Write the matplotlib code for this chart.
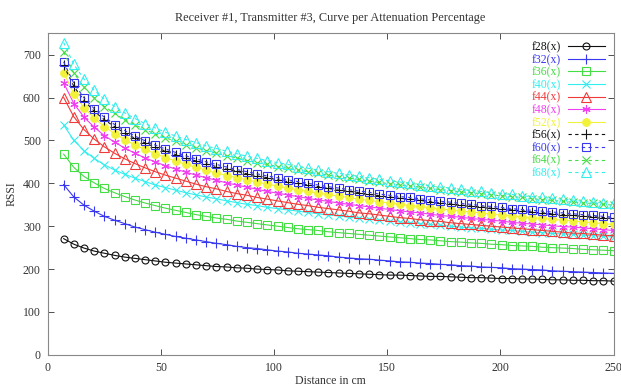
import matplotlib
matplotlib.use("Agg")
import matplotlib.pyplot as plt

plt.rcParams["font.family"] = ["Liberation Serif", "DejaVu Serif"]

# distance samples (cm)
distance = [7, 11.5, 16, 20.5, 25, 29.5, 34, 38.5, 43, 47.5, 52, 56.5, 61, 65.5,
            70, 74.5, 79, 83.5, 88, 92.5, 97, 101.5, 106, 110.5, 115, 119.5, 124,
            128.5, 133, 137.5, 142, 146.5, 151, 155.5, 160, 164.5, 169, 173.5, 178,
            182.5, 187, 191.5, 196, 200.5, 205, 209.5, 214, 218.5, 223, 227.5, 232,
            236.5, 241, 245.5, 250]

# RSSI, one list per attenuation percentage
f28 = [271, 258, 249, 242, 237, 232, 228, 225, 222, 219, 216, 214, 212, 210, 208,
       206, 205, 203, 202, 200, 199, 198, 196, 195, 194, 193, 192, 191, 190, 189,
       188, 187, 186, 186, 185, 184, 183, 183, 182, 181, 180, 180, 179, 178, 178,
       177, 177, 176, 175, 175, 174, 174, 173, 173, 172]
f32 = [397, 368, 349, 335, 323, 314, 306, 298, 292, 286, 281, 276, 272, 268, 264,
       260, 257, 253, 250, 248, 245, 242, 240, 237, 235, 233, 231, 228, 226, 224,
       223, 221, 219, 217, 216, 214, 213, 211, 210, 208, 207, 205, 204, 203, 201,
       200, 199, 198, 196, 195, 194, 193, 192, 191, 190]
f36 = [468, 437, 416, 401, 388, 378, 369, 361, 354, 348, 342, 337, 332, 327, 323,
       319, 316, 312, 309, 306, 303, 300, 297, 294, 292, 290, 287, 285, 283, 281,
       279, 277, 275, 273, 271, 269, 268, 266, 264, 263, 261, 260, 258, 257, 255,
       254, 253, 251, 250, 249, 248, 246, 245, 244, 243]
f40 = [536, 500, 476, 458, 443, 431, 421, 412, 404, 396, 390, 384, 378, 373, 368,
       364, 359, 355, 351, 348, 344, 341, 338, 335, 332, 329, 326, 324, 321, 319,
       316, 314, 312, 310, 308, 306, 304, 302, 300, 298, 296, 295, 293, 291, 290,
       288, 286, 285, 283, 282, 281, 279, 278, 276, 275]
f44 = [600, 555, 525, 503, 485, 470, 457, 446, 436, 427, 419, 412, 405, 398, 392,
       387, 381, 376, 372, 367, 363, 359, 355, 351, 348, 344, 341, 338, 335, 331,
       329, 326, 323, 320, 318, 315, 313, 311, 308, 306, 304, 302, 300, 298, 296,
       294, 292, 290, 288, 286, 284, 283, 281, 279, 278]
f48 = [634, 586, 554, 531, 511, 496, 482, 470, 459, 450, 441, 433, 426, 419, 413,
       407, 401, 396, 391, 386, 381, 377, 373, 369, 365, 361, 358, 354, 351, 348,
       345, 342, 339, 336, 333, 331, 328, 325, 323, 321, 318, 316, 314, 312, 309,
       307, 305, 303, 301, 299, 298, 296, 294, 292, 290]
f52 = [658, 609, 576, 552, 532, 516, 502, 489, 479, 469, 460, 452, 444, 437, 430,
       424, 418, 413, 408, 403, 398, 394, 389, 385, 381, 377, 374, 370, 367, 363,
       360, 357, 354, 351, 348, 346, 343, 340, 338, 335, 333, 331, 328, 326, 324,
       322, 320, 318, 316, 314, 312, 310, 308, 306, 304]
f56 = [675, 626, 593, 568, 548, 532, 517, 505, 494, 484, 475, 467, 459, 452, 445,
       439, 433, 428, 422, 417, 413, 408, 404, 400, 396, 392, 388, 384, 381, 378,
       374, 371, 368, 365, 363, 360, 357, 354, 352, 349, 347, 345, 342, 340, 338,
       336, 333, 331, 329, 327, 325, 323, 322, 320, 318]
f60 = [683, 633, 599, 574, 554, 537, 523, 510, 499, 489, 480, 472, 464, 457, 450,
       444, 438, 432, 427, 422, 417, 413, 408, 404, 400, 396, 392, 389, 385, 382,
       379, 375, 372, 369, 367, 364, 361, 358, 356, 353, 351, 348, 346, 344, 341,
       339, 337, 335, 333, 331, 329, 327, 325, 323, 321]
f64 = [706, 657, 624, 599, 579, 563, 548, 536, 525, 515, 506, 498, 490, 483, 476,
       470, 464, 459, 453, 448, 444, 439, 435, 431, 427, 423, 419, 415, 412, 409,
       405, 402, 399, 396, 394, 391, 388, 385, 383, 380, 378, 376, 373, 371, 369,
       367, 364, 362, 360, 358, 356, 354, 353, 351, 349]
f68 = [728, 677, 643, 617, 596, 579, 564, 551, 539, 529, 519, 510, 502, 495, 487,
       481, 475, 469, 463, 458, 453, 448, 444, 439, 435, 431, 427, 423, 420, 416,
       413, 409, 406, 403, 400, 397, 394, 391, 389, 386, 383, 381, 378, 376, 374,
       371, 369, 367, 365, 363, 361, 358, 356, 355, 353]

labels = ["f28(x)", "f32(x)", "f36(x)", "f40(x)", "f44(x)", "f48(x)",
          "f52(x)", "f56(x)", "f60(x)", "f64(x)", "f68(x)"]
series = [f28, f32, f36, f40, f44, f48, f52, f56, f60, f64, f68]
colors = ["#111111", "#3838f0", "#44dd44", "#33eeee", "#f03a3a", "#f040f0",
          "#f2f23a", "#111111", "#3838f0", "#44dd44", "#33eeee"]
markers = ["o", "+", "s", "x", "^", (6, 2, 0), "o", "+", "s", "x", "^"]
sizes = [5, 6.5, 6, 6, 6.5, 6, 5.5, 6.5, 6, 6, 6.5]
filled = [False, True, False, True, False, True, True, True, False, True, False]
styles = ["-"] * 7 + [(0, (3, 3))] * 4

fig = plt.figure(figsize=(6.21, 3.9), dpi=100)
ax = fig.add_axes([0.077, 0.09, 0.911, 0.825])

for y, lab, c, m, s, f, ls in zip(series, labels, colors, markers, sizes, filled, styles):
    ax.plot(distance, y, color=c, linestyle=ls, linewidth=0.8, marker=m,
            markersize=s, markerfacecolor=c if f else "none",
            markeredgecolor=c, markeredgewidth=0.8, label=lab)

ax.set_xlim(0, 250)
ax.set_ylim(0, 750)
ax.set_xticks([0, 50, 100, 150, 200, 250])
ax.set_yticks([0, 100, 200, 300, 400, 500, 600, 700])
ax.tick_params(direction="in", length=4, width=0.6, top=True, right=True,
               labelsize=8.5, colors="#333333", pad=5)
for sp in ax.spines.values():
    sp.set_color("#888888")
    sp.set_linewidth(0.8)

ax.set_title("Receiver #1, Transmitter #3, Curve per Attenuation Percentage",
             fontsize=8.8, color="#333333", pad=9)
ax.set_xlabel("Distance in cm", fontsize=8.5, labelpad=1, color="#333333")
ax.set_ylabel("RSSI", fontsize=8.5, labelpad=4, color="#333333")

leg = ax.legend(loc="upper right", frameon=False, markerfirst=False,
                fontsize=8.5, labelcolor="linecolor", handlelength=3.2,
                labelspacing=0.05, borderaxespad=0.3, handletextpad=0.6)

fig.savefig("out.png", dpi=100)
